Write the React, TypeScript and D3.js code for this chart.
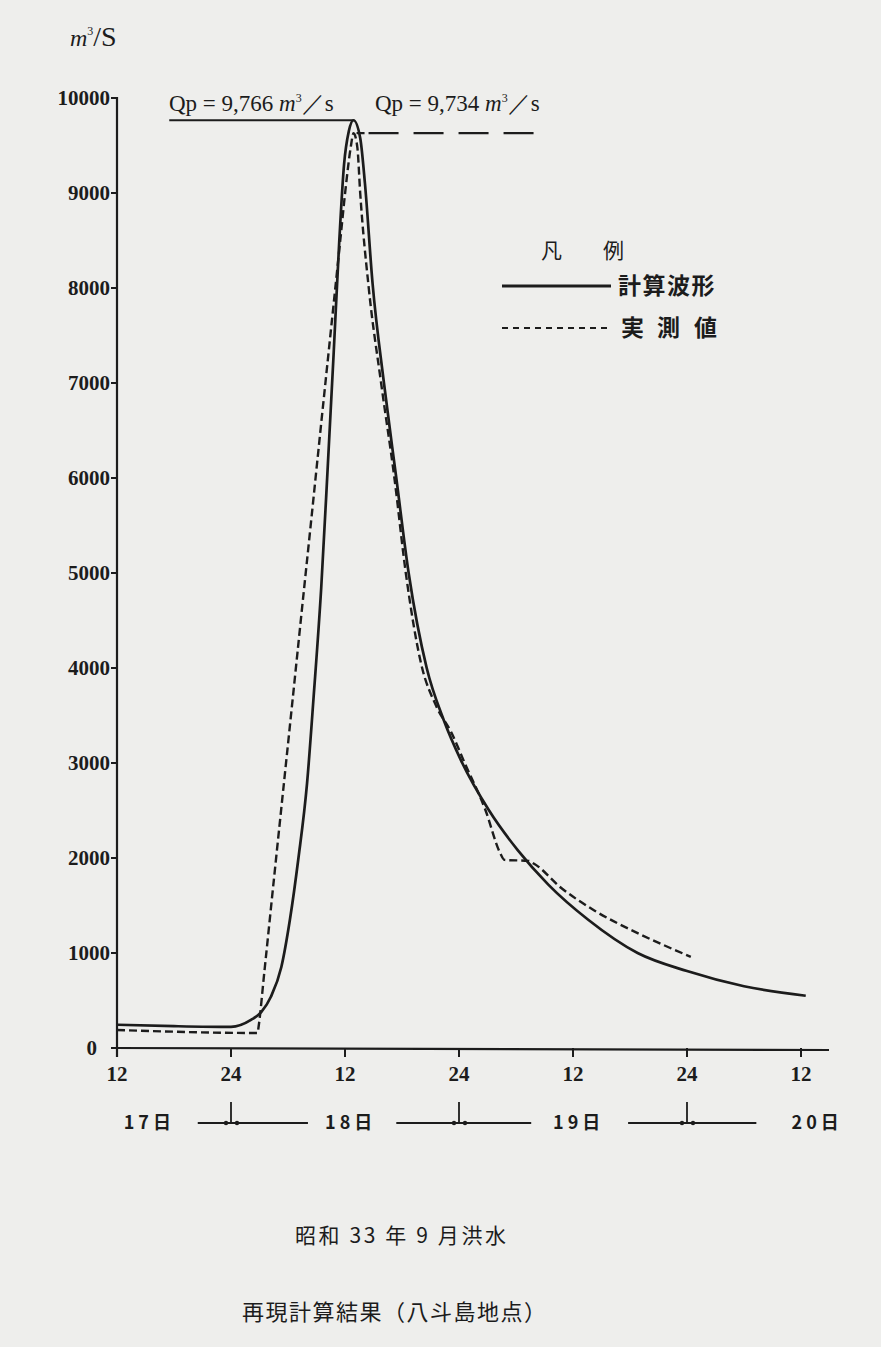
import React from "react";
import * as d3 from "d3";

// hours counted from 17日 12:00
const computedHours = [0, 6, 12, 14.1, 15.2, 16.2, 17.3, 18.2, 19.1, 20.0, 20.7, 21.5, 22.2, 22.8, 23.4, 23.9, 24.4, 24.9, 25.6, 26.1, 26.9, 28.1, 29.4, 30.7, 32.6, 34.4, 36.2, 39.1, 42.2, 45.4, 49.6, 54.8, 60.0, 66.0, 72.5];
const computedValues = [245, 230, 222, 295, 380, 540, 853, 1350, 2000, 2780, 3700, 4850, 6150, 7300, 8500, 9300, 9650, 9766, 9580, 9100, 8050, 7000, 6000, 5000, 4000, 3450, 3030, 2510, 2080, 1720, 1350, 1000, 810, 650, 550];

const observedHours = [0, 14.8, 14.9, 15.5, 16.5, 17.5, 18.5, 19.5, 20.5, 21.5, 22.5, 23.5, 24.1, 24.6, 24.9, 25.3, 25.6, 26.5, 27.8, 29.2, 30.4, 32.0, 33.6, 35.2, 36.6, 38.8, 40.3, 40.8, 43.3, 43.9, 46.7, 50.2, 54.8, 60.4];
const observedValues = [190, 158, 221, 790, 1760, 2720, 3680, 4650, 5610, 6580, 7540, 8500, 9080, 9480, 9630, 9480, 9000, 8000, 7000, 6000, 5000, 4050, 3600, 3320, 3000, 2500, 2060, 1980, 1970, 1940, 1690, 1450, 1210, 960];

const yTicks = [0, 1000, 2000, 3000, 4000, 5000, 6000, 7000, 8000, 9000, 10000];
const xTickHours = [0, 12, 24, 36, 48, 60, 72];
const xTickLabels = ["12", "24", "12", "24", "12", "24", "12"];

const dayLabels = ["17日", "18日", "19日", "20日"];
const dayLabelHours = [3.4, 24.6, 48.6, 73.7];
const daySegStart = [8.5, 29.4, 53.8];
const daySegEnd = [20.1, 43.6, 67.3];
const midnightHours = [12, 36, 60];

const qpComputedLabel = "Qp = 9,766 ";
const qpObservedLabel = "Qp = 9,734 ";
const qpComputedLineStart = 5.5;
const qpObservedLineEnd = 43.9;

const legendTitleChars = ["凡", "例"];
const legendComputed = "計算波形";
const legendObservedChars = ["実", "測", "値"];
const title1 = "昭和 33 年 9 月洪水";
const title2 = "再現計算結果（八斗島地点）";

const INK = "#1c1c1c";
const BG = "#eeeeec";
const SERIF = "'Liberation Serif', 'DejaVu Serif', serif";
const JP = "'Noto Sans CJK JP', sans-serif";

export default function App() {
  const W = 881, H = 1347;
  const x = d3.scaleLinear().domain([0, 72]).range([117, 801]);
  const y = d3.scaleLinear().domain([0, 10000]).range([1048, 98]);

  const line = d3.line<[number, number]>()
    .x(d => x(d[0]))
    .y(d => y(d[1]))
    .curve(d3.curveMonotoneX);

  const comp: [number, number][] = computedHours.map((h, i) => [h, computedValues[i]]);
  const obs: [number, number][] = observedHours.map((h, i) => [h, observedValues[i]]);

  const compMaxI = d3.maxIndex(computedValues);
  const obsMaxI = d3.maxIndex(observedValues);
  const compPeakY = y(computedValues[compMaxI]);
  const obsPeakY = y(observedValues[obsMaxI]);

  return (
    <svg width={W} height={H} style={{ position: "absolute", left: 0, top: 0, display: "block", background: BG }}>
      <rect x={0} y={0} width={W} height={H} fill={BG} />
      {/* unit */}
      <text x={70} y={46} fontFamily={SERIF} fontSize={28} fill={INK}>
        <tspan fontStyle="italic" fontSize={24}>m</tspan>
        <tspan fontSize={12} dy={-11}>3</tspan>
        <tspan dy={11}>/S</tspan>
      </text>

      {/* axes */}
      <line x1={x(0)} x2={x(0)} y1={y(10000) - 1} y2={y(0) + 9} stroke={INK} strokeWidth={2.2} />
      <line x1={x(0) - 4} x2={829} y1={y(0)} y2={y(0) + 2} stroke={INK} strokeWidth={2.2} />
      {yTicks.map(t => (
        <g key={t}>
          <line x1={x(0) - 6} x2={x(0)} y1={y(t)} y2={y(t)} stroke={INK} strokeWidth={2} />
          <text x={x(0) - (t === 0 ? 20 : 7)} y={y(t)} dy="0.35em" textAnchor="end" fontFamily={SERIF} fontWeight="bold" fontSize={21} fill={INK}>{t}</text>
        </g>
      ))}
      {xTickHours.map((h, i) => (
        <g key={h}>
          <line x1={x(h)} x2={x(h)} y1={y(0)} y2={y(0) + 9} stroke={INK} strokeWidth={2} />
          <text x={x(h)} y={1081} textAnchor="middle" fontFamily={SERIF} fontWeight="bold" fontSize={21} fill={INK}>{xTickLabels[i]}</text>
        </g>
      ))}

      {/* day row */}
      {dayLabels.map((d, i) => (
        <text key={d} x={x(dayLabelHours[i])} y={1129} textAnchor="middle" fontFamily={JP} fontWeight="bold" fontSize={18} letterSpacing={4} fill={INK}>{d}</text>
      ))}
      {daySegStart.map((s, i) => (
        <g key={s}>
          <line x1={x(s)} x2={x(daySegEnd[i])} y1={1123} y2={1123} stroke={INK} strokeWidth={1.8} />
          <line x1={x(midnightHours[i])} x2={x(midnightHours[i])} y1={1102} y2={1123} stroke={INK} strokeWidth={1.8} />
          <circle cx={x(midnightHours[i]) - 5} cy={1123} r={2.2} fill={INK} />
          <circle cx={x(midnightHours[i]) + 6} cy={1123} r={2.2} fill={INK} />
        </g>
      ))}

      {/* peak lines */}
      <line x1={x(qpComputedLineStart)} x2={x(computedHours[compMaxI])} y1={compPeakY} y2={compPeakY} stroke={INK} strokeWidth={2.2} />
      <line x1={x(observedHours[obsMaxI]) + 3} x2={x(qpObservedLineEnd)} y1={obsPeakY} y2={obsPeakY} stroke={INK} strokeWidth={2.2} strokeDasharray="8,4,30,15,30,15,30,15,30" />
      <text x={169} y={111} fontFamily={SERIF} fontSize={23} fill={INK}>
        {qpComputedLabel}
        <tspan fontStyle="italic">m</tspan><tspan fontSize={12} dy={-9}>3</tspan><tspan dy={9}>／s</tspan>
      </text>
      <text x={375} y={111} fontFamily={SERIF} fontSize={23} fill={INK}>
        {qpObservedLabel}
        <tspan fontStyle="italic">m</tspan><tspan fontSize={12} dy={-9}>3</tspan><tspan dy={9}>／s</tspan>
      </text>

      {/* series */}
      <path d={line(obs) || ""} fill="none" stroke={INK} strokeWidth={2.4} strokeDasharray="8,4" strokeLinejoin="round" />
      <path d={line(comp) || ""} fill="none" stroke={INK} strokeWidth={2.7} strokeLinejoin="round" />

      {/* legend */}
      <text y={258} fontFamily={JP} fontSize={21} fill={INK}>
        <tspan x={541}>{legendTitleChars[0]}</tspan>
        <tspan x={603}>{legendTitleChars[1]}</tspan>
      </text>
      <line x1={502} x2={611} y1={286} y2={286} stroke={INK} strokeWidth={3} />
      <text x={618} y={294} fontFamily={JP} fontWeight="bold" fontSize={23} letterSpacing={1.5} fill={INK}>{legendComputed}</text>
      <line x1={502} x2={609} y1={328} y2={328} stroke={INK} strokeWidth={2} strokeDasharray="6,5" />
      <text y={336} fontFamily={JP} fontWeight="bold" fontSize={23} fill={INK}>
        <tspan x={621}>{legendObservedChars[0]}</tspan>
        <tspan x={657}>{legendObservedChars[1]}</tspan>
        <tspan x={694}>{legendObservedChars[2]}</tspan>
      </text>

      {/* titles */}
      <text x={295} y={1243} fontFamily={JP} fontSize={21} letterSpacing={2.6} fill={INK}>{title1}</text>
      <text x={242} y={1320} fontFamily={JP} fontSize={22} letterSpacing={1.5} fill={INK}>{title2}</text>
    </svg>
  );
}
